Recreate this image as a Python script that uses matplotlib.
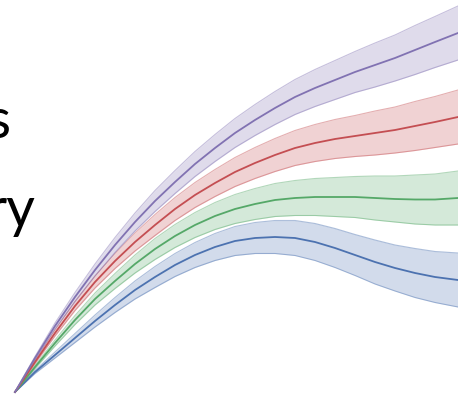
import matplotlib
matplotlib.use("Agg")
import matplotlib.pyplot as plt
import numpy as np

# steps along the trajectory
steps = [0, 1, 2, 3, 4, 5, 6, 7, 8, 9, 10, 11, 12, 13, 14, 15, 16, 17, 18, 19, 20, 21, 22.15]

# mean values per group
purple = [0, 3.4, 6.6, 9.5, 12.2, 14.7, 17.0, 19.1, 21.0, 22.8, 24.4, 25.9,
          27.2, 28.4, 29.5, 30.4, 31.2, 32.0, 32.7, 33.4, 34.2, 35.0, 35.9]
red = [0, 3.0, 5.9, 8.6, 11.0, 13.1, 15.0, 16.7, 18.3, 19.7, 20.9, 22.0,
       22.9, 23.7, 24.4, 24.9, 25.3, 25.6, 25.9, 26.2, 26.6, 27.0, 27.5]
green = [0, 2.5, 4.9, 7.2, 9.3, 11.1, 12.8, 14.3, 15.6, 16.7, 17.6, 18.3,
         18.8, 19.2, 19.4, 19.5, 19.5, 19.5, 19.4, 19.3, 19.25, 19.25, 19.4]
blue = [0, 2.0, 3.7, 5.4, 7.1, 8.7, 10.2, 11.5, 12.7, 13.7, 14.5, 15.1,
        15.4, 15.5, 15.4, 15.0, 14.4, 13.7, 13.0, 12.4, 11.9, 11.5, 11.2]

# spread around each mean
spread = [0, 0.15, 0.3, 0.45, 0.6, 0.75, 0.9, 1.05, 1.15, 1.25, 1.35, 1.45,
          1.55, 1.65, 1.75, 1.85, 1.95, 2.05, 2.2, 2.3, 2.45, 2.55, 2.7]

series = [
    (blue, "#4C72B0"),
    (green, "#55A868"),
    (red, "#C44E52"),
    (purple, "#8172B2"),
]

fig = plt.figure(figsize=(4.58, 3.95), dpi=100)
ax = fig.add_axes([0, 0, 1, 1])

x = np.array(steps)
s = np.array(spread)
for vals, col in series:
    y = np.array(vals)
    ax.fill_between(x, y - s, y + s, color=col, alpha=0.25, lw=0)
    ax.plot(x, y - s, color=col, alpha=0.45, lw=0.8, solid_joinstyle="round")
    ax.plot(x, y + s, color=col, alpha=0.45, lw=0.8, solid_joinstyle="round")
    ax.plot(x, y, color=col, lw=1.3, solid_joinstyle="round")

ax.set_xlim(-0.75, 22.15)
ax.set_ylim(-0.3, 39.2)
ax.axis("off")

fig.text(10 / 458, 1 - 138 / 395, "s", ha="right", va="baseline",
         fontsize=40, family=["Lato", "DejaVu Sans"], color="black")
fig.text(35 / 458, 1 - 227 / 395, "ry", ha="right", va="baseline",
         fontsize=40, family=["Lato", "DejaVu Sans"], color="black")

fig.savefig("out.png", dpi=100)
